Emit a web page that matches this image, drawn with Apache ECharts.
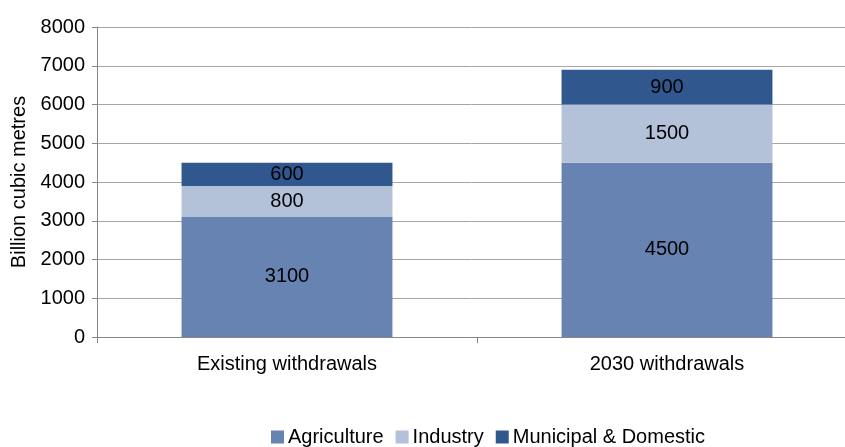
<!DOCTYPE html>
<html>
<head>
<meta charset="utf-8">
<script src="https://cdn.jsdelivr.net/npm/echarts@6/dist/echarts.min.js"></script>
<style>
  html, body { margin: 0; padding: 0; background: #fff; }
  #chart { width: 845px; height: 447px; }
</style>
</head>
<body>
<div id="chart"></div>
<script>
// Global water withdrawals, billion cubic metres
const categories = ['Existing withdrawals', '2030 withdrawals'];
const agriculture = [3100, 4500];
const industry = [800, 1500];
const municipal = [600, 900];
const yTicks = [0, 1000, 2000, 3000, 4000, 5000, 6000, 7000, 8000];

const FONT = '"Liberation Sans", Arial, sans-serif';
const FS = 20;

function stackSeries(name, data, color) {
  return {
    name: name,
    type: 'bar',
    stack: 'total',
    data: data,
    barCategoryGap: '44.5%',
    itemStyle: { color: color },
    label: {
      show: true,
      position: 'inside',
      color: '#000',
      fontFamily: FONT,
      fontSize: FS
    },
    emphasis: { disabled: true }
  };
}

const chart = echarts.init(document.getElementById('chart'), null, { renderer: 'canvas' });
chart.setOption({
  animation: false,
  grid: {
    left: 97, width: 760, top: 27, height: 310,
    containLabel: false,
    outerBoundsMode: 'none'
  },
  legend: {
    top: 422,
    left: 266,
    icon: 'rect',
    itemWidth: 13,
    itemHeight: 13,
    itemGap: 12,
    textStyle: { fontFamily: FONT, fontSize: FS, color: '#000', padding: [0, 0, 0, -1] },
    data: ['Agriculture', 'Industry', 'Municipal & Domestic']
  },
  xAxis: {
    type: 'category',
    data: categories,
    axisLine: { lineStyle: { color: '#868686', width: 1 } },
    axisTick: { show: true, length: 6, lineStyle: { color: '#868686' } },
    axisLabel: { fontFamily: FONT, fontSize: FS, color: '#000', margin: 17 }
  },
  yAxis: {
    type: 'value',
    min: yTicks[0],
    max: yTicks[yTicks.length - 1],
    interval: yTicks[1] - yTicks[0],
    name: 'Billion cubic metres',
    nameLocation: 'middle',
    nameGap: 67,
    nameTextStyle: { fontFamily: FONT, fontSize: FS, color: '#000' },
    axisLine: { show: true, lineStyle: { color: '#868686', width: 1 } },
    axisTick: { show: true, length: 5, lineStyle: { color: '#868686' } },
    axisLabel: { fontFamily: FONT, fontSize: FS, color: '#000', margin: 12, formatter: v => String(v) },
    splitLine: { show: true, lineStyle: { color: '#A6A6A6', width: 1 } }
  },
  series: [
    stackSeries('Agriculture', agriculture, '#6783B2'),
    stackSeries('Industry', industry, '#B3C1D9'),
    stackSeries('Municipal & Domestic', municipal, '#31578F')
  ]
});
</script>
</body>
</html>
